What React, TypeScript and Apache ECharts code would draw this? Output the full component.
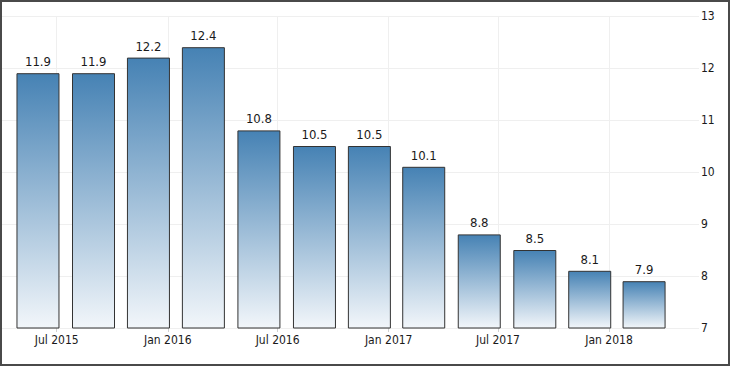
import React, { useEffect, useRef } from "react";
import * as echarts from "echarts";

const barDates = [
  "2015-05-31", "2015-08-31", "2015-11-30", "2016-02-29",
  "2016-05-31", "2016-08-31", "2016-11-30", "2017-02-28",
  "2017-05-31", "2017-08-31", "2017-11-30", "2018-02-28",
];
const barValues = [11.9, 11.9, 12.2, 12.4, 10.8, 10.5, 10.5, 10.1, 8.8, 8.5, 8.1, 7.9];
const tickDates = ["2015-07-01", "2016-01-01", "2016-07-01", "2017-01-01", "2017-07-01", "2018-01-01"];
const monthNames = ["Jan", "Feb", "Mar", "Apr", "May", "Jun", "Jul", "Aug", "Sep", "Oct", "Nov", "Dec"];

const ts = (s: string) => Date.parse(s + "T00:00:00Z");

export default function App() {
  const ref = useRef<HTMLDivElement>(null);
  useEffect(() => {
    document.body.style.margin = "0";
    const chart = echarts.init(ref.current!, null, { renderer: "svg" });
    const font = "'DejaVu Sans Condensed', 'DejaVu Sans', sans-serif";
    const tickVals = tickDates.map(ts);
    chart.setOption({
      animation: false,
      grid: { left: 2, right: 31, top: 16, bottom: 38, containLabel: false },
      xAxis: {
        type: "value",
        scale: true,
        min: Date.UTC(2015, 3, 1, 10),
        max: Date.UTC(2018, 4, 30),
        axisLine: { show: false },
        axisTick: { show: true, customValues: tickVals, length: 4, lineStyle: { color: "#d0d0d0" } },
        splitLine: { show: true, lineStyle: { color: "#efefef", width: 1 } },
        axisLabel: {
          customValues: tickVals,
          formatter: (v: number) => {
            const d = new Date(v);
            return monthNames[d.getUTCMonth()] + " " + d.getUTCFullYear();
          },
          color: "#1a1a1a",
          fontFamily: font,
          fontSize: 12,
          margin: 6,
        },
      },
      yAxis: {
        type: "value",
        position: "right",
        min: 7,
        max: 13,
        interval: 1,
        axisLine: { show: false },
        axisTick: { show: false },
        splitLine: { show: true, lineStyle: { color: "#efefef", width: 1 } },
        axisLabel: { color: "#1a1a1a", fontFamily: font, fontSize: 12, margin: 2 },
      },
      series: [
        {
          type: "bar",
          barWidth: 43,
          data: barDates.map((d, i) => [ts(d), barValues[i]]),
          itemStyle: {
            color: new echarts.graphic.LinearGradient(0, 0, 0, 1, [
              { offset: 0, color: "#4682b4" },
              { offset: 1, color: "#f2f6fa" },
            ]),
            borderColor: "#333",
            borderWidth: 1,
          },
          label: {
            show: true,
            position: "top",
            distance: 5,
            color: "#1a1a1a",
            fontFamily: font,
            fontSize: 13,
          },
        },
      ],
    });
    return () => chart.dispose();
  }, []);
  return (
    <div
      style={{
        width: 730,
        height: 366,
        boxSizing: "border-box",
        border: "2px solid #4a4a4a",
        position: "relative",
      }}
    >
      <div ref={ref} style={{ position: "absolute", left: -2, top: -2, width: 730, height: 366 }} />
    </div>
  );
}
